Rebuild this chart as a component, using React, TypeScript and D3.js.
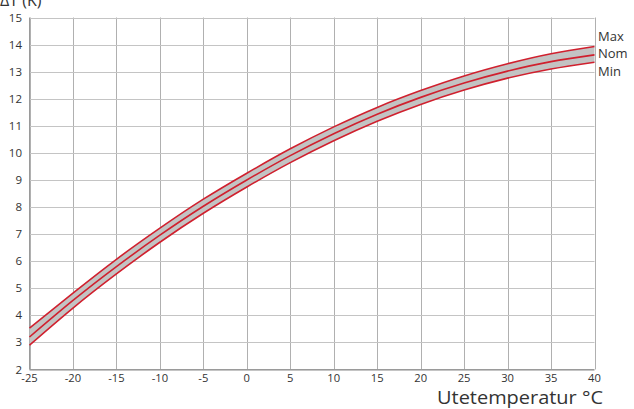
import React from "react";
import * as d3 from "d3";

const temps = [-25, -20, -15, -10, -5, 0, 5, 10, 15, 20, 25, 30, 35, 40];
const maxValues = [3.53, 4.82, 6.07, 7.22, 8.29, 9.25, 10.15, 10.96, 11.68, 12.3, 12.84, 13.29, 13.66, 13.93];
const nomValues = [3.2, 4.55, 5.8, 6.96, 8.03, 9.0, 9.9, 10.71, 11.43, 12.05, 12.58, 13.02, 13.37, 13.62];
const minValues = [2.9, 4.27, 5.53, 6.7, 7.77, 8.74, 9.64, 10.45, 11.17, 11.79, 12.32, 12.76, 13.1, 13.35];
const xTicks = [-25, -20, -15, -10, -5, 0, 5, 10, 15, 20, 25, 30, 35, 40];
const yTicks = [2, 3, 4, 5, 6, 7, 8, 9, 10, 11, 12, 13, 14, 15];
const seriesLabels = ["Max", "Nom", "Min"];
const xTitle = "Utetemperatur °C";
const yTitle = "ΔT (K)";

const W = 634, H = 409;
const L = 29.5, R = 594.5, T = 17.5, B = 369.5;
const FONT = "'Open Sans', 'Noto Sans', sans-serif";

export default function App() {
  const x = d3.scaleLinear().domain([-25, 40]).range([L, R]);
  const y = d3.scaleLinear().domain([2, 15]).range([B, T]);
  const pts = (vals: number[]) => temps.map((t, i) => [t, vals[i]] as [number, number]);
  const line = d3.line<[number, number]>().x(d => x(d[0])).y(d => y(d[1])).curve(d3.curveNatural);
  const area = d3.area<number>()
    .x((_, i) => x(temps[i]))
    .y0((_, i) => y(minValues[i]))
    .y1((_, i) => y(maxValues[i]))
    .curve(d3.curveNatural);
  return (
    <svg width={W} height={H} style={{ position: "absolute", left: 0, top: 0, background: "#fff" }} fontFamily={FONT}>
      {xTicks.map(t => (
        <line key={"vx" + t} x1={Math.round(x(t)) + 0.5} x2={Math.round(x(t)) + 0.5} y1={T} y2={B} stroke="#b0b0b0" strokeWidth={1} />
      ))}
      {yTicks.map(t => (
        <line key={"hy" + t} x1={L} x2={R} y1={Math.round(y(t)) + 0.5} y2={Math.round(y(t)) + 0.5} stroke="#c4c4c4" strokeWidth={1} />
      ))}
      <line x1={L} x2={L} y1={T} y2={B} stroke="#9a9a9a" />
      <line x1={L} x2={R} y1={B} y2={B} stroke="#9a9a9a" />
      <path d={area(maxValues) || ""} fill="#c3c3c3" />
      {[maxValues, nomValues, minValues].map((v, i) => (
        <path key={"s" + i} d={line(pts(v)) || ""} fill="none" stroke="#d0202e" strokeWidth={1.6} />
      ))}
      {yTicks.map(t => (
        <text key={"yl" + t} x={22} y={y(t)} dy="0.35em" textAnchor="end" fontSize={11.5} fill="#333">{t}</text>
      ))}
      {xTicks.map(t => (
        <text key={"xl" + t} x={x(t)} y={381.5} textAnchor="middle" fontSize={11.2} fill="#333">{t}</text>
      ))}
      {seriesLabels.map((s, i) => (
        <text key={s} x={598} y={[41, 58, 76][i]} fontSize={13} fill="#333">{s}</text>
      ))}
      <text x={437} y={403.5} fontSize={18} textLength={166} lengthAdjust="spacingAndGlyphs" fill="#333">{xTitle}</text>
      <text x={0} y={6} fontSize={16} fill="#333">{yTitle}</text>
    </svg>
  );
}
